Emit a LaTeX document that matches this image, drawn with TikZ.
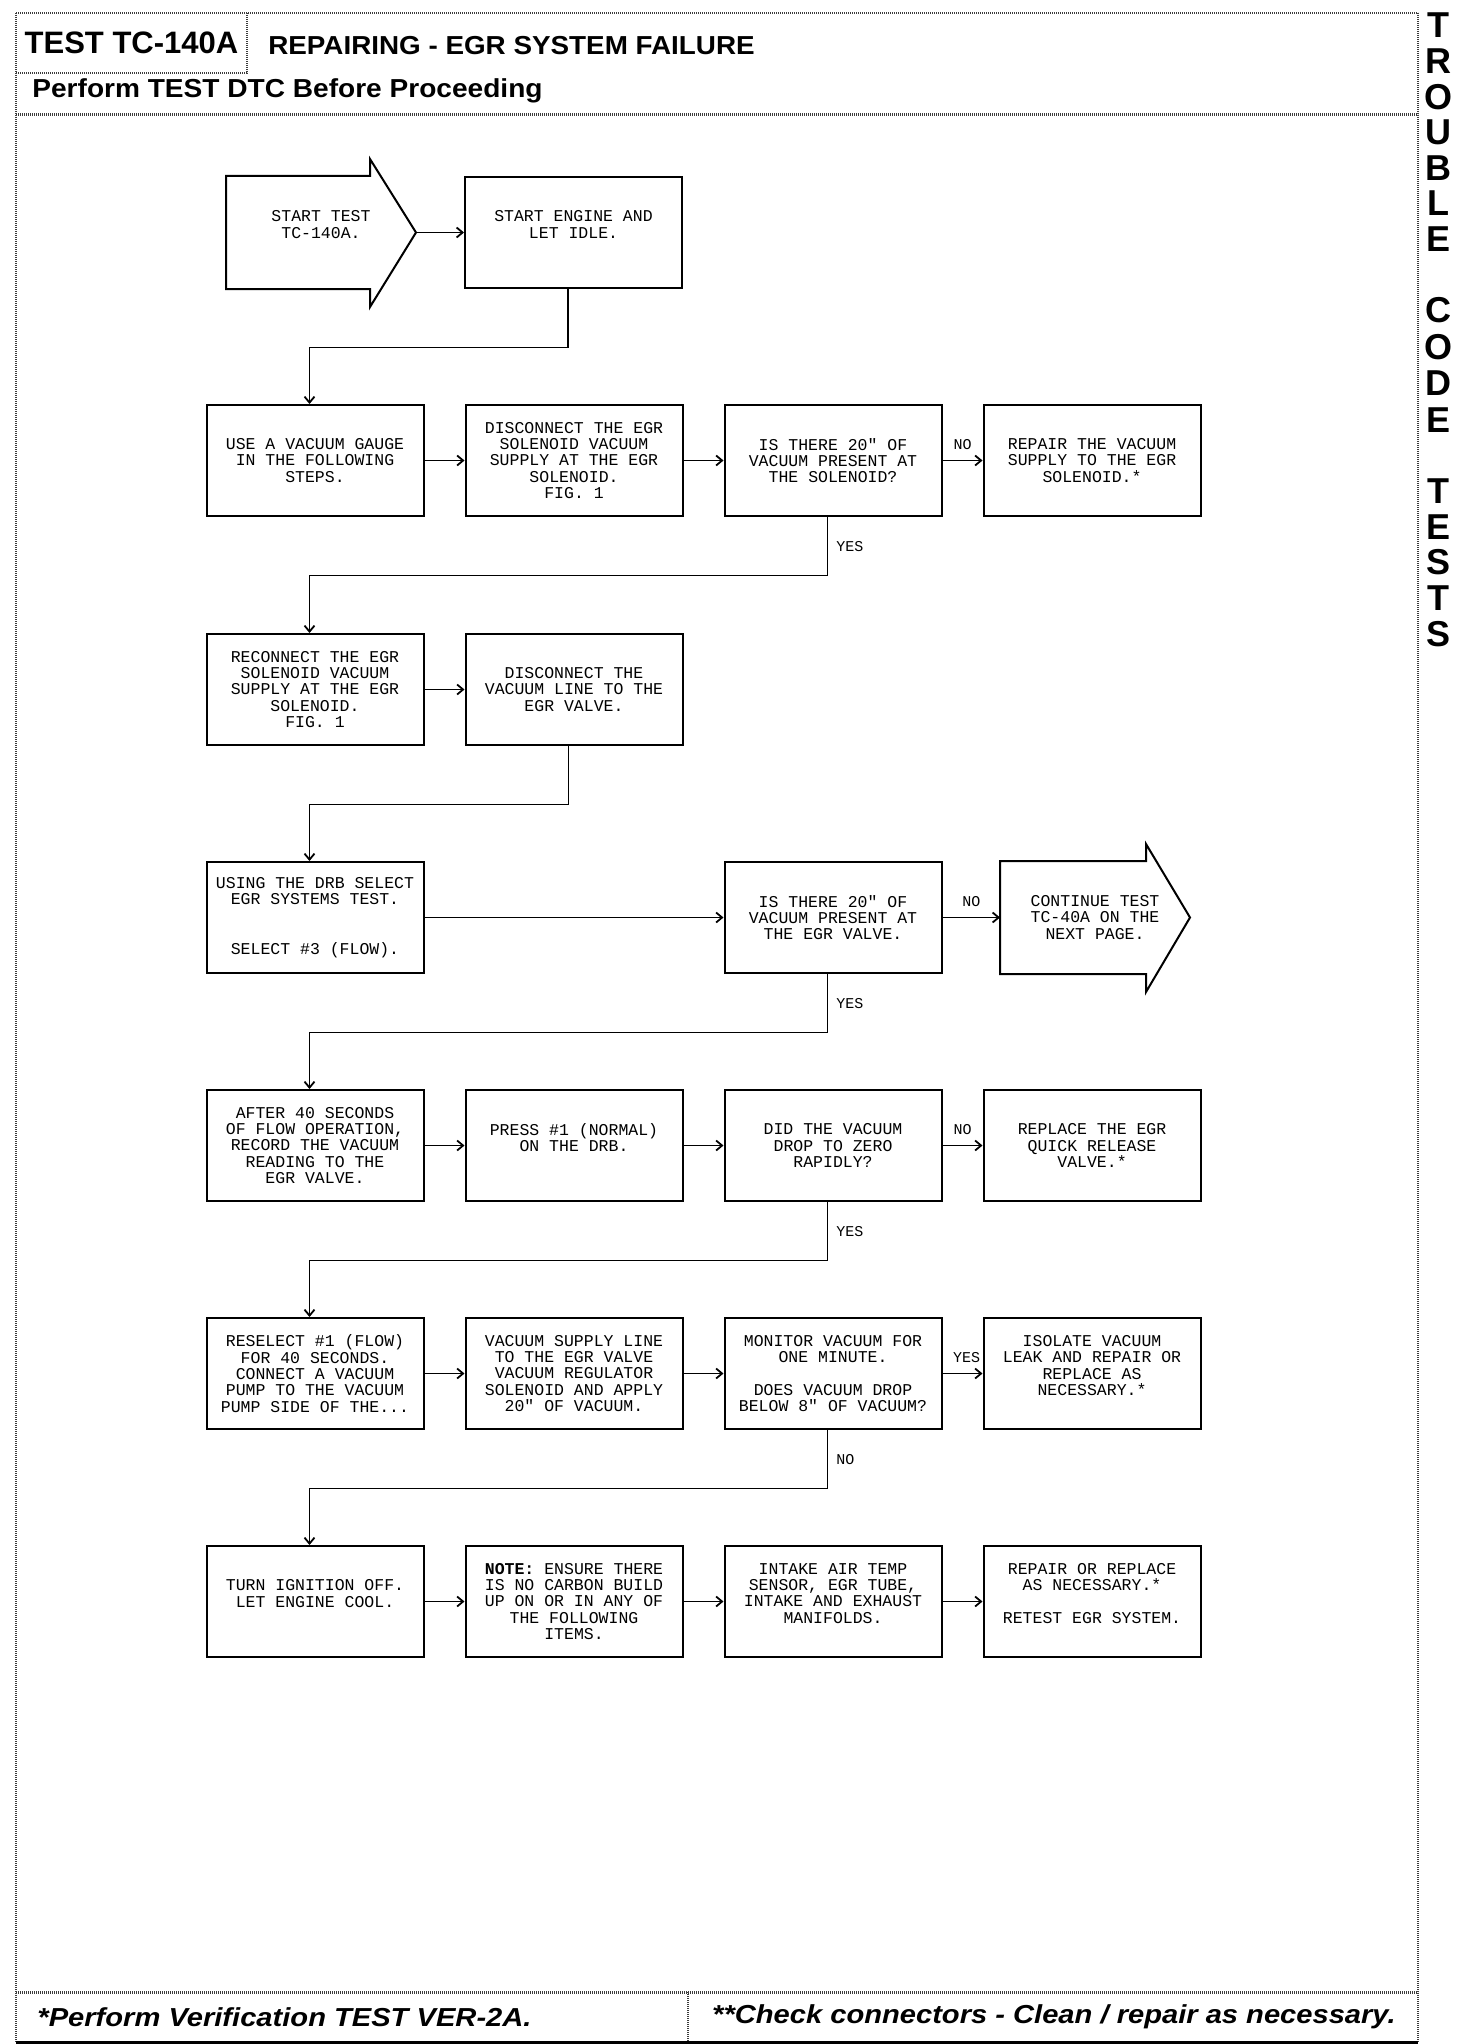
\documentclass[tikz,border=0pt]{standalone}
\usepackage{fontspec}
\setmainfont{Liberation Sans}
\newfontfamily\boxfont{Liberation Mono}
\usetikzlibrary{positioning,arrows.meta,calc}
\definecolor{FrameInk}{RGB}{60,60,60}
\tikzset{
  flow/.style={-{Straight Barb[length=6pt,width=10pt]},line width=1.8pt},
  box/.style={draw,line width=2pt,minimum width=217pt,minimum height=111pt,
    inner sep=0pt,align=center,font=\boxfont\fontsize{16.5}{16.4}\selectfont},
  shapebox/.style={box,draw=none},
  shapeline/.style={line width=2pt},
  tag/.style={inner sep=0pt,font=\boxfont\fontsize{15}{15}\selectfont},
  frame/.style={draw=FrameInk,line width=1.6pt,dash pattern=on 1.4pt off 0.6pt},
  heavyframe/.style={frame,line width=3pt},
  title/.style={inner sep=0pt,font=\bfseries\fontsize{26}{30}\selectfont},
  footnote/.style={inner sep=0pt,font=\bfseries\itshape\fontsize{26}{30}\selectfont},
  sideletter/.style={inner sep=0pt,font=\bfseries\fontsize{36}{36}\selectfont}
}

\begin{document}
\begin{tikzpicture}[x=1pt,y=-1pt,node distance=40pt]
  \useasboundingbox (0,0) rectangle (1472,2044);
  \draw[frame] (16,13) -- (1418,13);
  \draw[frame] (16,13) -- (16,2042);
  \draw[frame] (1418,13) -- (1418,2042);
  \draw[frame] (247,13) -- (247,73) -- (16,73);
  \draw[heavyframe] (16,115) -- (1418,115);
  \draw[heavyframe] (16,1992) -- (1418,1992);
  \draw[frame] (688,1992) -- (688,2042);
  \draw[line width=3pt] (16,2042) -- (1418,2042);
  \node[title,font=\bfseries\fontsize{31}{34}\selectfont] (testid) at (131.5,43) {TEST TC-140A};
  \node[title] (heading) at (511.5,46) {\scalebox{1.07}[1]{REPAIRING - EGR SYSTEM FAILURE}};
  \node[title] (perform) at (287.5,91) {\scalebox{1.08}[1]{Perform TEST DTC Before Proceeding}};
  \node[footnote] (verify) at (284.5,2017) {\scalebox{1.12}[1]{*Perform Verification TEST VER-2A.}};
  \node[footnote] (connectors) at (1054,2017) {\scalebox{1.12}[1]{**Check connectors - Clean / repair as necessary.}};
  \foreach \ch/\yy [count=\i] in {T/25,R/61,O/97,U/132,B/168,L/203,E/239,C/310,O/347,D/383,E/420,T/491,E/527,S/562,T/598,S/634}
    \node[sideletter] (side\i) at (1438,\yy) {\ch};

  \node[shapebox,minimum width=188pt] (start) at (321,232.5) {START TEST\\TC-140A.\\~};
  \draw[shapeline] (start.north west) -- ($(start.north east)+(-46,0)$) -- ++(0,-17) -- (start.east)
    -- ($(start.south east)+(-46,18)$) -- ++(0,-18) -- (start.south west) -- cycle;
  \node[box] (engine) at (573.5,232.5) {START ENGINE AND\\LET IDLE.\\~};

  \node[box] (gauge) at (315,460.5) {USE A VACUUM GAUGE\\IN THE FOLLOWING\\STEPS.};
  \node[box,right=of gauge] (discsol) {DISCONNECT THE EGR\\SOLENOID VACUUM\\SUPPLY AT THE EGR\\SOLENOID.\\FIG. 1};
  \node[box,right=of discsol] (solq) {IS THERE 20" OF\\VACUUM PRESENT AT\\THE SOLENOID?};
  \node[box,right=of solq] (fixsupply) {REPAIR THE VACUUM\\SUPPLY TO THE EGR\\SOLENOID.*};

  \node[box] (recon) at (315,689.5) {RECONNECT THE EGR\\SOLENOID VACUUM\\SUPPLY AT THE EGR\\SOLENOID.\\FIG. 1};
  \node[box,right=of recon] (discvalve) {DISCONNECT THE\\VACUUM LINE TO THE\\EGR VALVE.};

  \node[box] (drb) at (315,917.5) {USING THE DRB SELECT\\EGR SYSTEMS TEST.\\~\\~\\SELECT \#3 (FLOW).};
  \node[box] (valveq) at (833,917.5) {IS THERE 20" OF\\VACUUM PRESENT AT\\THE EGR VALVE.};
  \node[shapebox,minimum width=188pt] (nextpage) at (1095,917.5) {CONTINUE TEST\\TC-40A ON THE\\NEXT PAGE.};
  \draw[shapeline] (nextpage.north west) -- ($(nextpage.north east)+(-44,0)$) -- ++(0,-17) -- (nextpage.east)
    -- ($(nextpage.south east)+(-44,18)$) -- ++(0,-18) -- (nextpage.south west) -- cycle;

  \node[box] (record) at (315,1145.5) {AFTER 40 SECONDS\\OF FLOW OPERATION,\\RECORD THE VACUUM\\READING TO THE\\EGR VALVE.};
  \node[box,right=of record] (normal) {PRESS \#1 (NORMAL)\\ON THE DRB.\\~};
  \node[box,right=of normal] (dropq) {DID THE VACUUM\\DROP TO ZERO\\RAPIDLY?};
  \node[box,right=of dropq] (replvalve) {REPLACE THE EGR\\QUICK RELEASE\\VALVE.*};

  \node[box] (reselect) at (315,1373.5) {RESELECT \#1 (FLOW)\\FOR 40 SECONDS.\\CONNECT A VACUUM\\PUMP TO THE VACUUM\\PUMP SIDE OF THE...};
  \node[box,right=of reselect] (apply) {VACUUM SUPPLY LINE\\TO THE EGR VALVE\\VACUUM REGULATOR\\SOLENOID AND APPLY\\20" OF VACUUM.};
  \node[box,right=of apply] (monitor) {MONITOR VACUUM FOR\\ONE MINUTE.\\~\\DOES VACUUM DROP\\BELOW 8" OF VACUUM?};
  \node[box,right=of monitor] (isolate) {ISOLATE VACUUM\\LEAK AND REPAIR OR\\REPLACE AS\\NECESSARY.*\\~};

  \node[box] (cool) at (315,1601.5) {TURN IGNITION OFF.\\LET ENGINE COOL.\\~};
  \node[box,right=of cool] (note) {\textbf{NOTE:} ENSURE THERE\\IS NO CARBON BUILD\\UP ON OR IN ANY OF\\THE FOLLOWING\\ITEMS.};
  \node[box,right=of note] (items) {INTAKE AIR TEMP\\SENSOR, EGR TUBE,\\INTAKE AND EXHAUST\\MANIFOLDS.\\~};
  \node[box,right=of items] (retest) {REPAIR OR REPLACE\\AS NECESSARY.*\\~\\RETEST EGR SYSTEM.\\~};

  \draw[flow] (start.east) -- (engine);
  \draw[flow] ([xshift=-5.5pt]engine.south) -- ++(0,58.5) -| ([xshift=-5.5pt]gauge.north);
  \draw[flow] (gauge) -- (discsol);
  \draw[flow] (discsol) -- (solq);
  \draw[flow] (solq) -- node[tag,above=10pt] (no1) {NO} (fixsupply);
  \draw[flow] ([xshift=-5.5pt]solq.south) -- node[tag,right=8pt] (yes1) {YES} ++(0,58.5) -| ([xshift=-5.5pt]recon.north);
  \draw[flow] (recon) -- (discvalve);
  \draw[flow] ([xshift=-5.5pt]discvalve.south) -- ++(0,58.5) -| ([xshift=-5.5pt]drb.north);
  \draw[flow] (drb) -- (valveq);
  \draw[flow] (valveq) -- node[tag,above=10pt] (no2) {NO} (nextpage);
  \draw[flow] ([xshift=-5.5pt]valveq.south) -- node[tag,right=8pt] (yes2) {YES} ++(0,58.5) -| ([xshift=-5.5pt]record.north);
  \draw[flow] (record) -- (normal);
  \draw[flow] (normal) -- (dropq);
  \draw[flow] (dropq) -- node[tag,above=10pt] (no3) {NO} (replvalve);
  \draw[flow] ([xshift=-5.5pt]dropq.south) -- node[tag,right=8pt] (yes3) {YES} ++(0,58.5) -| ([xshift=-5.5pt]reselect.north);
  \draw[flow] (reselect) -- (apply);
  \draw[flow] (apply) -- (monitor);
  \draw[flow] (monitor) -- node[tag,above=10pt,xshift=4pt] (yes4) {YES} (isolate);
  \draw[flow] ([xshift=-5.5pt]monitor.south) -- node[tag,right=8pt] (no4) {NO} ++(0,58.5) -| ([xshift=-5.5pt]cool.north);
  \draw[flow] (cool) -- (note);
  \draw[flow] (note) -- (items);
  \draw[flow] (items) -- (retest);
\end{tikzpicture}
\end{document}
